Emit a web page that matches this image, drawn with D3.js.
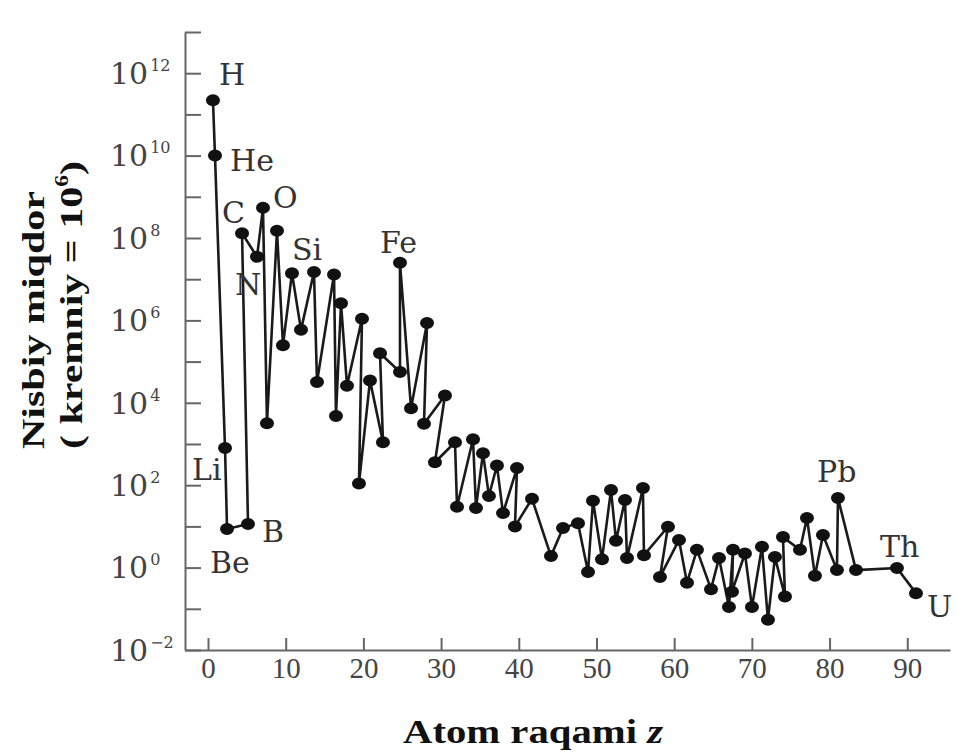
<!DOCTYPE html>
<html>
<head>
<meta charset="utf-8">
<script src="https://cdn.jsdelivr.net/npm/d3@7"></script>
<style>
  body { margin: 0; background: #fff; }
  svg { display: block; }
  .axis path, .axis line { stroke: #666; stroke-width: 2; }
  .tick-lbl { font-family: "DejaVu Serif", serif; fill: #444; }
  .title { font-family: "Liberation Serif", "Times New Roman", serif; font-weight: bold; fill: #111; }
  .elem { font-family: "DejaVu Serif", serif; font-size: 30px; fill: #333; }
</style>
</head>
<body>
<svg id="chart" width="962" height="753"></svg>
<script>
// z position of each dot (it is hand drawn, dots sit a bit off the integers)
const zPos = [0.64, 0.90, 2.19, 2.45, 5.15, 4.38, 6.31, 7.08, 7.59, 8.88,
  9.65, 10.81, 11.97, 13.64, 14.03, 16.22, 16.47, 17.12, 17.89, 19.82,
  19.43, 20.85, 22.52, 22.14, 24.71, 24.71, 26.13, 28.19, 27.80, 30.50,
  29.21, 31.79, 32.05, 34.11, 34.49, 35.39, 36.16, 37.19, 37.97, 39.77,
  39.51, 41.70, 44.14, 45.69, 47.62, 48.91, 49.55, 50.71, 51.87, 52.51,
  53.67, 53.93, 55.98, 56.11, 59.20, 58.17, 60.62, 61.65, 62.93, 64.74,
  65.77, 67.05, 67.57, 67.44, 69.11, 70.01, 71.30, 72.07, 72.97, 74.26,
  74.00, 76.19, 77.09, 78.12, 79.15, 80.95, 81.08, 83.40, 88.67, 91.12];

// relative abundance (kremniy = 1e6)
const abundance = [2.2e11, 1.0e10, 800, 8.7, 11.5, 1.3e8, 3.5e7, 5.4e8, 3.2e3, 1.5e8,
  2.5e5, 1.4e7, 5.9e5, 1.5e7, 3.2e4, 1.3e7, 4.8e3, 2.6e6, 2.6e4, 1.1e6,
  110, 3.5e4, 1.1e3, 1.6e5, 5.6e4, 2.5e7, 7.4e3, 8.7e5, 3.1e3, 1.5e4,
  360, 1.1e3, 30, 1.3e3, 28, 600, 55, 300, 21, 260,
  10, 47, 1.9, 9.1, 12, 0.78, 42, 1.6, 76, 4.5,
  44, 1.7, 85, 2.0, 9.8, 0.59, 4.7, 0.43, 2.7, 0.30,
  1.7, 0.11, 2.7, 0.26, 2.2, 0.11, 3.2, 0.054, 1.8, 0.20,
  5.5, 2.7, 16, 0.63, 6.2, 0.87, 49, 0.87, 0.98, 0.24];

const labelNames = ['H', 'He', 'Li', 'Be', 'B', 'C', 'N', 'O', 'Si', 'Fe', 'Pb', 'Th', 'U'];
const labelIndex = [0, 1, 2, 3, 4, 5, 6, 7, 13, 25, 76, 78, 79];

const xTicks = [0, 10, 20, 30, 40, 50, 60, 70, 80, 90];
const yDecades = d3.range(-2, 14);
const yLabelExp = [-2, 0, 2, 4, 6, 8, 10, 12];

let
  width = 962,
  height = 753,
  margin = {top: 32, right: 12, bottom: 103, left: 185},
  xScale = d3.scaleLinear().domain([-2.96, 95.5]).range([margin.left, width - margin.right]),
  yScale = d3.scaleLog().domain([1e-2, 1e13]).range([height - margin.bottom, margin.top]),
  svg = d3.select('#chart'),
  points = zPos.map((z, i) => ({z: z, v: abundance[i]})),
  line = d3.line().x(d => xScale(d.z)).y(d => yScale(d.v)),
  // where each element name sits relative to its dot
  labelOffset = {
    H: [6, -15], He: [15, 15], Li: [-33, 32], Be: [-17, 44], B: [14, 18],
    C: [-20, -10], N: [-22, 38], O: [10, 0], Si: [-22, -12], Fe: [-20, -10],
    Pb: [-21, -16], Th: [-17, -11], U: [11, 24]
  }
  ;

// axes
const gx = svg.append('g')
  .attr('class', 'axis')
  .attr('transform', `translate(0,${height - margin.bottom})`)
  .call(d3.axisBottom(xScale).tickValues(xTicks).tickSizeInner(-12).tickSizeOuter(0).tickPadding(7))
  ;
gx.selectAll('text')
  .attr('font-family', '"Liberation Serif", serif')
  .attr('font-size', 29)
  .attr('fill', '#444')
  ;

svg.append('g')
  .attr('class', 'axis')
  .attr('transform', `translate(${margin.left},0)`)
  .call(d3.axisLeft(yScale).tickValues(yDecades.map(e => Math.pow(10, e))).tickSizeInner(-16).tickSizeOuter(0).tickFormat(''))
  ;

const ylab = svg.append('g')
  .selectAll('text')
  .data(yLabelExp)
  .join('text')
  .attr('class', 'tick-lbl')
  .attr('x', margin.left - 75)
  .attr('y', d => yScale(Math.pow(10, d)))
  .attr('dy', '0.36em')
  .attr('font-size', 30)
  ;
ylab.append('tspan').text('10');
ylab.append('tspan')
  .attr('font-size', 16)
  .attr('dx', 2)
  .attr('dy', -13)
  .text(d => d < 0 ? '\u2212' + Math.abs(d) : d)
  ;

// the data
svg.append('path')
  .datum(points)
  .attr('d', line)
  .attr('fill', 'none')
  .attr('stroke', '#1a1a1a')
  .attr('stroke-width', 2.6)
  .attr('stroke-linejoin', 'round')
  ;

svg.append('g')
  .selectAll('ellipse')
  .data(points)
  .join('ellipse')
  .attr('cx', d => xScale(d.z))
  .attr('cy', d => yScale(d.v))
  .attr('rx', 7)
  .attr('ry', 6)
  .attr('fill', '#111')
  ;

svg.append('g')
  .selectAll('text')
  .data(labelNames)
  .join('text')
  .attr('class', 'elem')
  .attr('x', (d, i) => xScale(points[labelIndex[i]].z) + labelOffset[d][0])
  .attr('y', (d, i) => yScale(points[labelIndex[i]].v) + labelOffset[d][1])
  .text(d => d)
  ;

// titles
svg.append('text')
  .attr('class', 'title')
  .attr('transform', 'translate(44,320) rotate(-90)')
  .attr('text-anchor', 'middle')
  .attr('font-size', 32)
  .attr('textLength', 258)
  .attr('lengthAdjust', 'spacingAndGlyphs')
  .text('Nisbiy miqdor')
  ;

const t2 = svg.append('text')
  .attr('class', 'title')
  .attr('transform', 'translate(82,305) rotate(-90)')
  .attr('text-anchor', 'middle')
  .attr('font-size', 32)
  .attr('textLength', 288)
  .attr('lengthAdjust', 'spacingAndGlyphs')
  ;
t2.append('tspan').text('( kremniy = 10');
t2.append('tspan').attr('font-size', 18).attr('dy', -14).text('6');
t2.append('tspan').attr('dy', 14).text(')');

const tx = svg.append('text')
  .attr('class', 'title')
  .attr('x', 533)
  .attr('y', 743)
  .attr('text-anchor', 'middle')
  .attr('font-size', 34)
  .attr('textLength', 260)
  .attr('lengthAdjust', 'spacingAndGlyphs')
  ;
tx.append('tspan').text('Atom raqami ');
tx.append('tspan').attr('font-style', 'italic').text('z');
</script>
</body>
</html>
